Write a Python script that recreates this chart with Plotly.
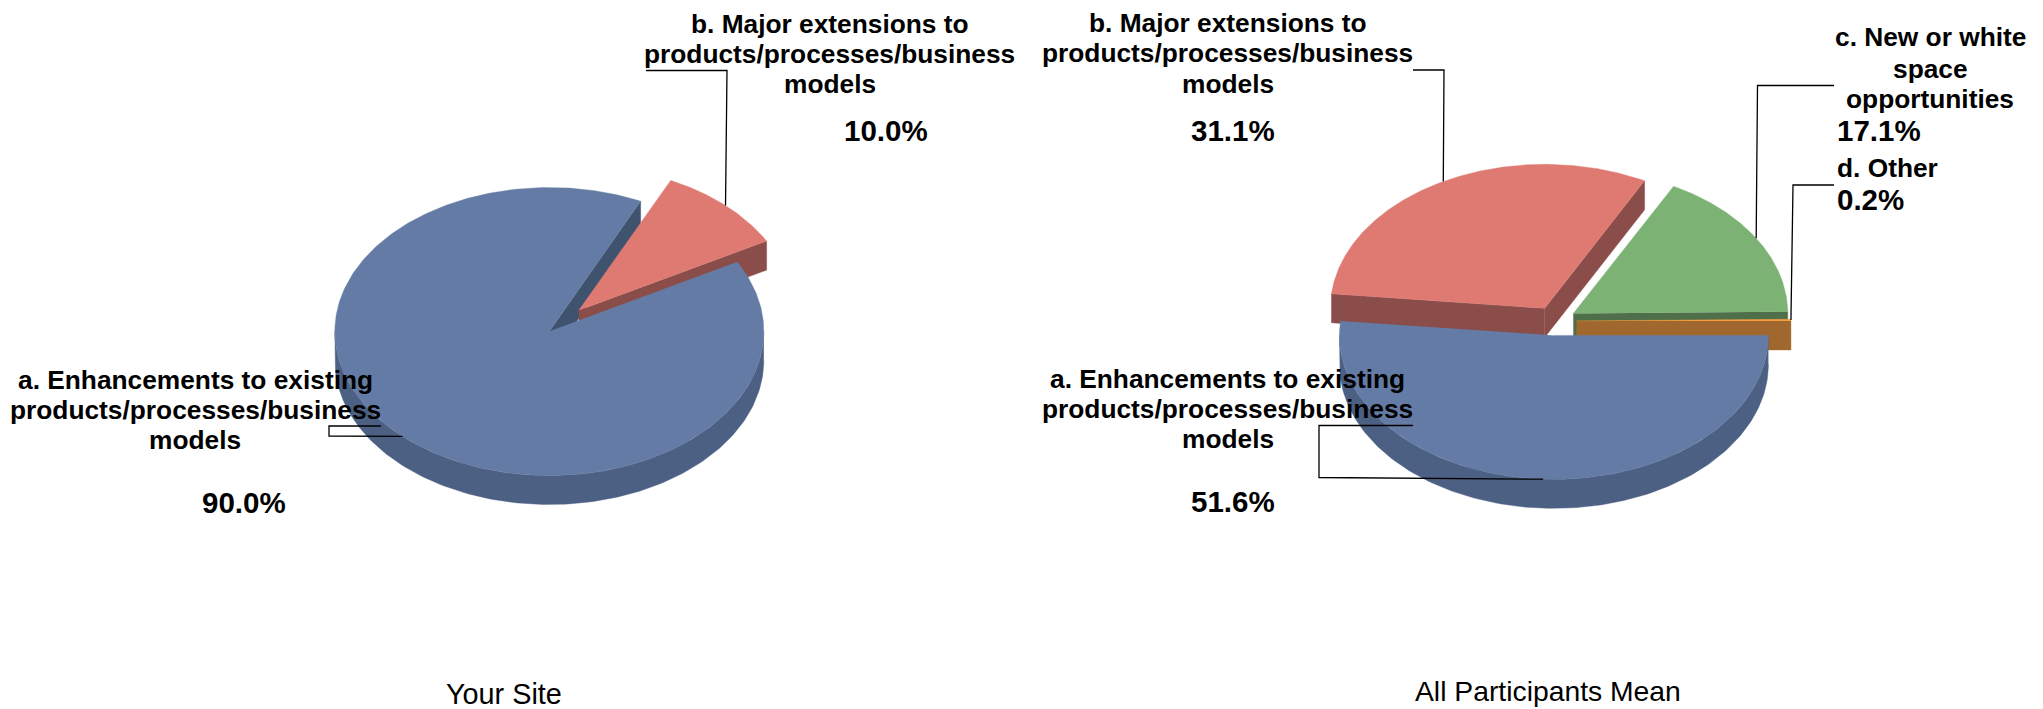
import numpy as np
import plotly.graph_objects as go

# Survey shares, in percent
site_values = [90.0, 10.0]
mean_values = [51.6, 31.1, 17.1, 0.2]

# Label text, one entry per drawn line
label_a = ["a. Enhancements to existing", "products/processes/business", "models"]
label_b = ["b. Major extensions to", "products/processes/business", "models"]
label_c = ["c. New or white", "space", "opportunities"]
label_d = ["d. Other"]
site_title = "Your Site"
mean_title = "All Participants Mean"

# Face, rim and cut-edge colours for the four categories
top_colors = ["#647CA5", "#DF7A73", "#7CB274", "#F79E3F"]
rim_colors = ["#4C6083", "#8A4D49", "#4E6F49", "#A0682E"]
cut_colors = ["#3F526E", "#8A4D49", "#4E6F49", "#A0682E"]

FONT = "Liberation Sans"
RX, RY, DEPTH, EXPLODE = 214.5, 144.0, 29.0, 0.1


def pos(cx, cy, turn, radius=1.0):
    """Screen position of a clock-wise angle (degrees from 12 o'clock) on the pie ellipse."""
    a = np.radians(turn)
    return cx + radius * RX * np.sin(a), cy - radius * RY * np.cos(a)


def add_poly(fig, xs, ys, color):
    fig.add_trace(go.Scatter(x=list(xs), y=list(ys), mode="lines", fill="toself",
                             fillcolor=color, line=dict(width=0.4, color=color),
                             hoverinfo="skip", showlegend=False))


def add_pie(fig, values, cx, cy, start):
    """Draw an exploded tilted pie; returns each slice's rim point at its mid angle."""
    total = sum(values)
    slices = []
    t = start
    for i, v in enumerate(values):
        t1 = t + 360.0 * v / total
        mid = (t + t1) / 2
        ax, ay = pos(cx, cy, mid, EXPLODE)
        slices.append(dict(i=i, t0=t, t1=t1, mid=mid, ax=ax, ay=ay))
        t = t1

    def cut(s, turn):
        rx, ry = pos(s["ax"], s["ay"], turn)
        add_poly(fig, [s["ax"], rx, rx, s["ax"]],
                 [s["ay"], ry, ry + DEPTH, s["ay"] + DEPTH], cut_colors[s["i"]])

    def cuts(s):
        if np.sin(np.radians(s["t0"])) < 0:
            cut(s, s["t0"])
        if np.sin(np.radians(s["t1"])) > 0:
            cut(s, s["t1"])

    def rim(s):
        # only the part of the outer wall between 3 and 9 o'clock faces the viewer
        for k in (0, 360):
            lo, hi = max(s["t0"], 90 + k), min(s["t1"], 270 + k)
            if hi > lo:
                tt = np.linspace(lo, hi, 160)
                x, y = pos(s["ax"], s["ay"], tt)
                add_poly(fig, np.r_[x, x[::-1]], np.r_[y, y[::-1] + DEPTH], rim_colors[s["i"]])

    def top(s):
        tt = np.linspace(s["t0"], s["t1"], 360)
        x, y = pos(s["ax"], s["ay"], tt)
        add_poly(fig, np.r_[s["ax"], x], np.r_[s["ay"], y], top_colors[s["i"]])

    # back slices first, front slice's cut edges underneath everything
    ordered = sorted(slices, key=lambda s: -np.cos(np.radians(s["mid"])))
    for s in ordered:
        if np.cos(np.radians(s["mid"])) < 0:
            cuts(s)
    for s in ordered:
        if np.cos(np.radians(s["mid"])) >= 0:
            cuts(s)
        rim(s)
        top(s)
    return [pos(s["ax"], s["ay"], s["mid"]) for s in slices]


def leader(fig, path, anchor):
    xs = [p[0] for p in path] + [anchor[0]]
    ys = [p[1] for p in path] + [anchor[1]]
    fig.add_trace(go.Scatter(x=xs, y=ys, mode="lines", line=dict(color="#000000", width=1.3),
                             hoverinfo="skip", showlegend=False))


def text(fig, x, y, s, size=26.3, bold=True, anchor="center"):
    fig.add_annotation(x=x, y=y, text=f"<b>{s}</b>" if bold else s, showarrow=False,
                       xref="x", yref="y", xanchor=anchor, yanchor="middle",
                       font=dict(family=FONT, size=size, color="#000000"))


fig = go.Figure()
site_pts = add_pie(fig, site_values, 564, 321, 61.2)
mean_pts = add_pie(fig, mean_values, 1555, 321, 90.0)

# Leader lines run from each label to the rim of its slice
leader(fig, [(381, 426), (329, 426), (329, 436)], site_pts[0])
leader(fig, [(646, 70.5), (727, 70.5)], site_pts[1])
leader(fig, [(1413, 425.5), (1319, 425.5), (1319, 477.5)], mean_pts[0])
leader(fig, [(1413, 70), (1444, 70)], mean_pts[1])
leader(fig, [(1834, 85.5), (1757.5, 85.5)], mean_pts[2])
leader(fig, [(1834, 185), (1793, 185)], mean_pts[3])

# Category labels
for line, y in zip(label_a, (380, 409.5, 439.5)):
    text(fig, 195, y, line)
for line, y in zip(label_b, (24, 53.5, 83.5)):
    text(fig, 829.5, y, line)
for line, y in zip(label_a, (378.5, 408.5, 439)):
    text(fig, 1227.5, y, line)
for line, y in zip(label_b, (22.5, 52.5, 83.5)):
    text(fig, 1227.5, y, line)
for line, y in zip(label_c, (37, 69, 98.5)):
    text(fig, 1930, y, line)
text(fig, 1835, 168, label_d[0], anchor="left")

# Percentages
text(fig, 243.5, 502, f"{site_values[0]:.1f}%", size=29.5)
text(fig, 886, 130, f"{site_values[1]:.1f}%", size=29.5)
text(fig, 1233, 501, f"{mean_values[0]:.1f}%", size=29.5)
text(fig, 1233, 130, f"{mean_values[1]:.1f}%", size=29.5)
text(fig, 1835, 130, f"{mean_values[2]:.1f}%", size=29.5, anchor="left")
text(fig, 1835, 199.5, f"{mean_values[3]:.1f}%", size=29.5, anchor="left")

# Chart titles
text(fig, 503.5, 694, site_title, size=28.8, bold=False)
text(fig, 1548, 691, mean_title, size=28.3, bold=False)

fig.update_layout(
    width=2043, height=709, margin=dict(l=0, r=0, t=0, b=0),
    paper_bgcolor="#FFFFFF", plot_bgcolor="#FFFFFF", showlegend=False,
    xaxis=dict(range=[0, 2043], visible=False, fixedrange=True),
    yaxis=dict(range=[709, 0], visible=False, fixedrange=True),
)
fig.write_html("out.html")
